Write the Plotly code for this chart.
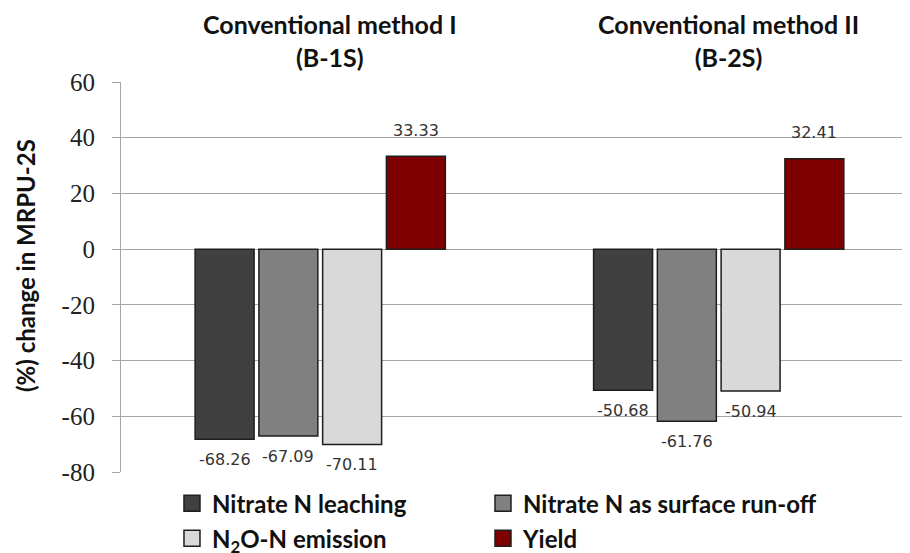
import plotly.graph_objects as go

groups = ["B-1S", "B-2S"]
group_titles = ["Conventional method I<br>(B-1S)", "Conventional method II<br>(B-2S)"]
series_names = ["Nitrate N leaching", "Nitrate N as surface run-off",
                "N<sub>2</sub>O-N emission", "Yield"]
leaching = [-68.26, -50.68]
runoff = [-67.09, -61.76]
n2o = [-70.11, -50.94]
yield_ = [33.33, 32.41]
series_values = [leaching, runoff, n2o, yield_]
colors = ["#404040", "#808080", "#d9d9d9", "#7f0000"]
legend_column = ["legend", "legend2", "legend", "legend2"]
y_ticks = [60, 40, 20, 0, -20, -40, -60, -80]
y_ticktext = [str(v) for v in y_ticks]
y_title = "(%) change in MRPU-2S"

# page body has an 8px default margin; figure sized to fit the 910x553 window
W, H = 902, 545
ml, mr, mt, mb = 113, 0, 74, 81
x_range = [-0.5, 1.48]
bargap = 0.36
bargroupgap = 0.075
outline = "#1e1e1e"

fig = go.Figure()
for name, vals, col in zip(series_names, series_values, colors):
    fig.add_trace(go.Bar(
        x=groups, y=vals, name=name, showlegend=False,
        marker=dict(color=col, line=dict(color=outline, width=1.5)),
    ))
# legend-only entries (larger square swatches), two legend columns
for name, col, lg in zip(series_names, colors, legend_column):
    fig.add_trace(go.Scatter(
        x=[groups[0]], y=[None], name=name, mode="markers",
        legend=lg, legendgroup=name,
        marker=dict(symbol="square", size=16, color=col,
                    line=dict(color=outline, width=1.5)),
    ))

# data labels
plot_w = W - ml - mr
unit_px = plot_w / (x_range[1] - x_range[0])
slot_px = unit_px * (1 - bargap) / len(series_values)
n = len(series_values)
for i, vals in enumerate(series_values):
    for g, v in zip(groups, vals):
        fig.add_annotation(
            x=g, y=v, text=f"{v:.2f}", showarrow=False,
            xshift=(i - (n - 1) / 2) * slot_px,
            yshift=26 if v > 0 else -20, yanchor="middle",
            font=dict(family="DejaVu Sans", size=16, color="#333333"),
        )

# group titles
for g, t in zip(groups, group_titles):
    fig.add_annotation(
        x=g, y=1, yref="paper", text=t, showarrow=False,
        xshift=10, yshift=42, yanchor="middle",
        font=dict(family="Lato", size=25, color="#111111", weight="bold"),
    )

# y-axis title
fig.add_annotation(
    x=0, xref="paper", y=0.5, yref="paper", text=y_title, showarrow=False,
    textangle=-90, xanchor="center", yanchor="middle", xshift=-96, yshift=11,
    font=dict(family="Lato", size=24, color="#111111", weight="bold"),
)

legend_common = dict(
    orientation="v", xref="container", yref="container",
    xanchor="left", yanchor="top", traceorder="grouped", tracegroupgap=1,
    itemsizing="trace", itemclick=False, bgcolor="rgba(0,0,0,0)",
    font=dict(family="Lato", size=24, color="#111111", weight="bold"),
)

fig.update_layout(
    width=W, height=H,
    margin=dict(l=ml, r=mr, t=mt, b=mb, autoexpand=False),
    paper_bgcolor="white", plot_bgcolor="white",
    barmode="group", bargap=bargap, bargroupgap=bargroupgap,
    showlegend=True,
    legend=dict(x=0.1818, y=0.132, **legend_common),
    legend2=dict(x=0.5266, y=0.132, **legend_common),
    xaxis=dict(type="category", range=x_range, showticklabels=False,
               showgrid=False, showline=False, zeroline=False, ticks=""),
    yaxis=dict(
        range=[-80, 60], tickvals=y_ticks, ticktext=y_ticktext, showgrid=True,
        gridcolor="#a6a6a6", gridwidth=1.2, zeroline=False,
        showline=True, linecolor="#a6a6a6", linewidth=1.2,
        ticks="outside", ticklen=8, tickcolor="#a6a6a6", tickwidth=1.2,
        ticklabelstandoff=12,
        tickfont=dict(family="Liberation Serif", size=25, color="#222222"),
    ),
)

fig.write_html("out.html")
